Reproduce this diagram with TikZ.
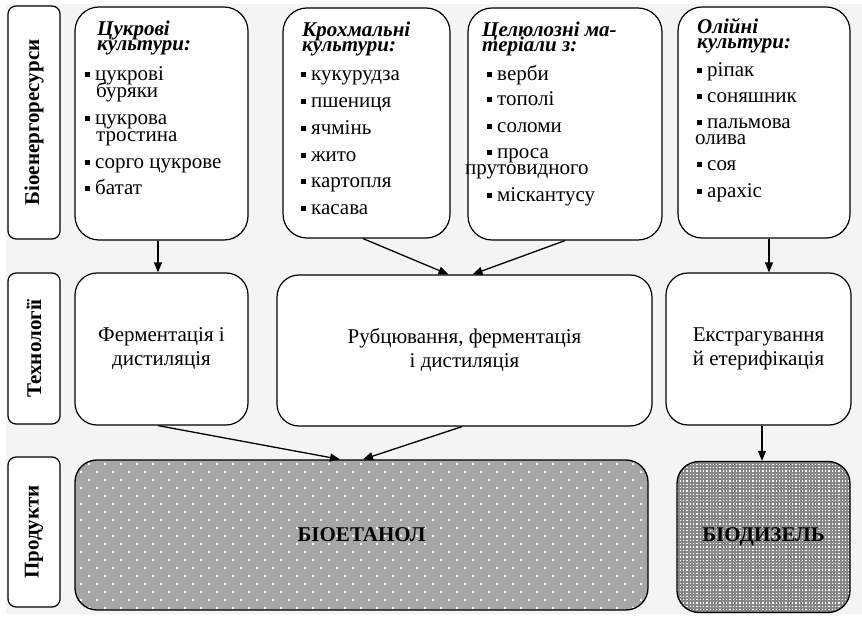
\documentclass[tikz,border=0pt]{standalone}
\usepackage{fontspec}
\setmainfont{Liberation Serif}
\usetikzlibrary{arrows.meta,patterns}
\pgfdeclarepatternformonly{sparsedots}{\pgfqpoint{-1pt}{-1pt}}{\pgfqpoint{17pt}{17pt}}{\pgfqpoint{16pt}{16pt}}{%
 \pgfpathrectangle{\pgfqpoint{0pt}{0pt}}{\pgfqpoint{2pt}{2pt}}%
 \pgfpathrectangle{\pgfqpoint{8pt}{8pt}}{\pgfqpoint{2pt}{2pt}}%
 \pgfusepath{fill}}
\pgfdeclarepatternformonly{densedots}{\pgfqpoint{-1pt}{-1pt}}{\pgfqpoint{4pt}{4pt}}{\pgfqpoint{3.3pt}{3.3pt}}{%
 \pgfpathrectangle{\pgfqpoint{0pt}{0pt}}{\pgfqpoint{1.3pt}{1.3pt}}%
 \pgfusepath{fill}}
\definecolor{bgc}{RGB}{244,244,244}
\definecolor{prod}{RGB}{166,166,166}
\definecolor{prodd}{RGB}{136,136,136}
\newcommand\fs{\fontsize{21}{24}\selectfont}
\newcommand\bul{\rule[4pt]{5pt}{5pt}\hspace{5pt}}
\newcommand\twol[3]{\vtop{\baselineskip=#1\lineskiplimit=-100pt\lineskip=0pt\hbox{#2}\hbox{#3}}}
\tikzset{
 box/.style={draw, line width=1.2pt, rounded corners=24pt, fill=white, inner sep=0pt},
 sidebox/.style={draw, line width=1.2pt, rounded corners=8pt, fill=white, rotate=90, font=\fs\bfseries, inner sep=0pt},
 techbox/.style={box, rounded corners=22pt, align=center, font=\fs},
 prodbox/.style={draw, line width=1.3pt, rounded corners=22pt, inner sep=0pt, font=\fs\bfseries, pattern color=white},
 hd/.style={anchor=base west, inner sep=0pt, font=\fs\bfseries\itshape},
 itm/.style={anchor=base west, inner sep=0pt, font=\fs},
 arr/.style={-{Triangle[length=10pt,width=8pt]}, line width=1.3pt}
}
\begin{document}
\begin{tikzpicture}[x=1pt,y=-1pt]
\useasboundingbox (0,0) rectangle (862,617);
\fill[bgc] (6,4) rectangle (862,614);
% side labels
\node[sidebox, minimum width=233pt, minimum height=52pt] (r1) at (34,122.5) {Біоенергоресурси};
\node[sidebox, minimum width=151pt, minimum height=52pt] (r2) at (34,348.5) {Технології};
\node[sidebox, minimum width=150pt, minimum height=52pt] (r3) at (34,532) {Продукти};
% top boxes
\node[box, minimum width=173pt, minimum height=233pt] (suc) at (161.5,123.5) {};
\node[box, minimum width=167pt, minimum height=230pt] (starch) at (366.5,123) {};
\node[box, minimum width=194pt, minimum height=232pt] (cell) at (565,124) {};
\node[box, minimum width=172pt, minimum height=231pt] (oil) at (764,122.5) {};
% sugar crops
\node[hd] (s0) at (97,36) {\twol{15pt}{Цукрові}{культури:}};
\node[itm] (s2) at (85,81) {\twol{17pt}{\bul цукрові}{\hspace*{11pt}буряки}};
\node[itm] (s4) at (85,125) {\twol{17pt}{\bul цукрова}{\hspace*{11pt}тростина}};
\node[itm] (s6) at (85,169) {\bul сорго цукрове};
\node[itm] (s7) at (85,195) {\bul батат};
% starch crops
\node[hd] (k0) at (302,37) {\twol{15pt}{Крохмальні}{культури:}};
\node[itm] (k2) at (301,81) {\bul кукурудза};
\node[itm] (k3) at (301,108) {\bul пшениця};
\node[itm] (k4) at (301,135) {\bul ячмінь};
\node[itm] (k5) at (301,162) {\bul жито};
\node[itm] (k6) at (301,188) {\bul картопля};
\node[itm] (k7) at (301,215) {\bul касава};
% cellulose
\node[hd] (c0) at (482,37) {\twol{15pt}{Целюлозні ма-}{теріали з:}};
\node[itm] (c2) at (487,81) {\bul верби};
\node[itm] (c3) at (487,106) {\bul тополі};
\node[itm] (c4) at (487,133) {\bul соломи};
\node[itm] (c5) at (465,159) {\twol{16pt}{\hspace*{22pt}\bul проса}{прутовидного}};
\node[itm] (c7) at (487,202) {\bul міскантусу};
% oil crops
\node[hd] (o0) at (697,34) {\twol{15pt}{Олійні}{культури:}};
\node[itm] (o2) at (697,77) {\bul ріпак};
\node[itm] (o3) at (697,103) {\bul соняшник};
\node[itm] (o4) at (695,129) {\twol{16pt}{\hspace*{2pt}\bul пальмова}{олива}};
\node[itm] (o6) at (697,171) {\bul соя};
\node[itm] (o7) at (697,198) {\bul арахіс};
% technologies
\node[techbox, minimum width=173pt, minimum height=152pt] (ferm) at (161.5,349) {Ферментація і\\дистиляція};
\node[techbox, minimum width=375pt, minimum height=151pt] (rub) at (464.5,350.5) {Рубцювання, ферментація\\і дистиляція};
\node[techbox, minimum width=185pt, minimum height=152pt] (ext) at (758.5,349) {Екстрагування\\й етерифікація};
% products
\node[prodbox, preaction={fill=prod}, pattern=sparsedots, minimum width=573pt, minimum height=150pt] (eth) at (361.5,535) {БІОЕТАНОЛ};
\node[prodbox, preaction={fill=prodd}, pattern=densedots, minimum width=173pt, minimum height=151pt] (dies) at (763.5,537) {БІОДИЗЕЛЬ};
% arrows
\draw[arr] ([xshift=-3.5pt]suc.south) -- ([xshift=-3.5pt]ferm.north);
\draw[arr] ([xshift=-3.5pt]starch.south) -- ([xshift=-16pt]rub.north);
\draw[arr] (cell.south) -- ([xshift=8pt]rub.north);
\draw[arr] ([xshift=5pt]oil.south) -- ([xshift=10.5pt]ext.north);
\draw[arr] ([xshift=-3.5pt]ferm.south) -- ([xshift=-21.5pt]eth.north);
\draw[arr] ([xshift=-2.5pt]rub.south) -- ([xshift=1.5pt]eth.north);
\draw[arr] ([xshift=3.5pt]ext.south) -- ([xshift=-1.5pt]dies.north);
\end{tikzpicture}
\end{document}
